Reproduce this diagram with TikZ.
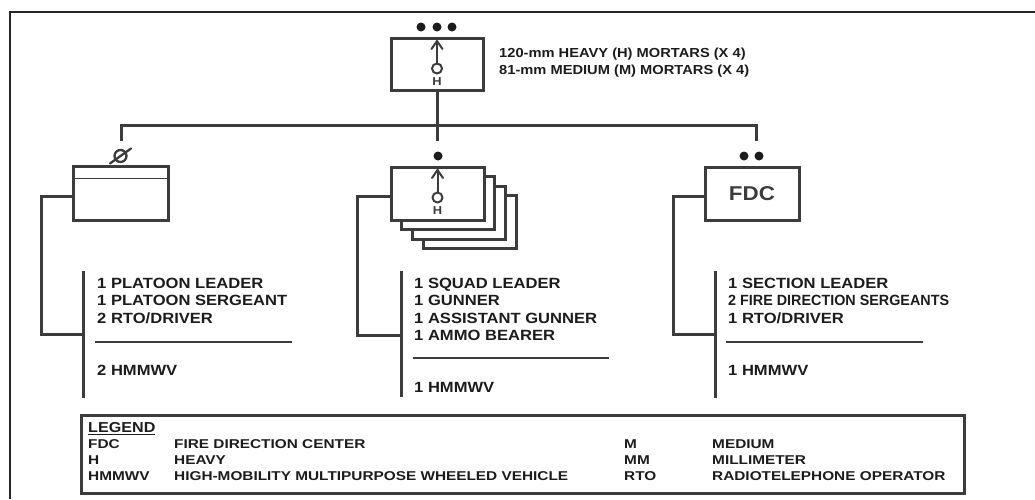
\documentclass[tikz,border=0pt]{standalone}
\usepackage{fontspec}
\setmainfont{Liberation Sans}[FakeStretch=1.12]
\newfontfamily\legfont{Liberation Sans}[FakeStretch=1.2]
\newfontfamily\narrowfont{Liberation Sans}[FakeStretch=0.97]
\usetikzlibrary{calc}
\definecolor{ln}{HTML}{3C3C3C}
\definecolor{tx}{HTML}{1C1C1C}
\tikzset{
  mortar/.pic={
    \draw[sym] (0,27) -- (0,4.5);
    \draw[sym] (-5.5,12.5) -- (0,4.5) -- (5.5,12.5);
    \draw[sym] (0,32) circle (5pt);
    \node[font=\bfseries\fontsize{11.5}{12}\selectfont,text=ln,inner sep=0pt] (h) at (0,45.5) {H};
  }
}
\begin{document}
\begin{tikzpicture}[x=1pt,y=-1pt,
  unit/.style={draw=ln,line width=3pt,fill=white,inner sep=0pt},
  conn/.style={draw=ln,line width=3pt},
  seprule/.style={draw=ln,line width=1.3pt},
  sym/.style={draw=ln,line width=2pt,line cap=round,line join=round},
  bdot/.style={circle,fill=tx,inner sep=0pt,minimum size=9pt},
  txt/.style={text=tx,font=\bfseries\fontsize{14.8}{17.4}\selectfont,align=left,anchor=north west,inner sep=0pt},
  ltxt/.style={text=tx,font=\legfont\bfseries\fontsize{12.8}{16.2}\selectfont,align=left,anchor=north west,inner sep=0pt}
]
\useasboundingbox (0,0) rectangle (1035,499);
% outer frame
\draw[line width=2pt,draw=black!85] (10,499) -- (10,12) -- (1035,12);

% company HQ
\node[bdot] (hd1) at (421,27) {};
\node[bdot] (hd2) at (437,27) {};
\node[bdot] (hd3) at (452,27) {};
\node[unit,minimum width=92pt,minimum height=52pt] (hq) at (437,64) {};
\pic (hqm) at (hq.north) {mortar};
\node[txt,font=\bfseries\fontsize{13.1}{17}\selectfont] (ht) at (499,47.5)
  {120-mm HEAVY (H) MORTARS (X 4)\\81-mm MEDIUM (M) MORTARS (X 4)};

% tree connectors
\coordinate (bar) at (437,125);
\coordinate (dL) at (121,141);
\coordinate (dM) at (437,141);
\coordinate (dR) at (756,141);
\draw[conn] (hq.south) -- (bar);
\draw[conn] (dL) |- (bar) -| (dR);
\draw[conn] (bar) -- (dM);

% platoon HQ
\draw[sym,line width=2.3pt] (120.5,156) circle (6pt);
\draw[sym,line width=2.3pt] (110,163.5) -- (131,148.5);
\node[unit,minimum width=95pt,minimum height=54pt] (plt) at (120.5,193) {};
\draw[sym,line width=1.5pt,line cap=butt] ($(plt.north west)+(0,14)$) -- ($(plt.north east)+(0,14)$);

% squads
\foreach \i in {3,2,1}{
  \node[unit,minimum width=93pt,minimum height=53pt] (sqd\i) at (437.5+10.7*\i,193.5+9.5*\i) {};
}
\node[bdot] (sd1) at (438,156) {};
\node[unit,minimum width=93pt,minimum height=53pt] (sqd) at (437.5,193.5) {};
\pic (sqm) at (sqd.north) {mortar};

% FDC
\node[bdot] (fd1) at (744,156) {};
\node[bdot] (fd2) at (759,156) {};
\node[unit,minimum width=94pt,minimum height=53pt,text=ln,font=\bfseries\fontsize{20}{22}\selectfont] (fdc) at (752,193.5) {FDC};

% lists: left
\coordinate (tL) at (83,271);
\coordinate (eL) at (83,398);
\coordinate (jL) at (41,334);
\draw[conn] (tL) -- (eL);
\draw[conn] ([yshift=-3pt]plt.west) -| (jL) -- (jL -| tL);
\node[txt] (Lt) at (97,278) {1 PLATOON LEADER\\1 PLATOON SERGEANT\\2 RTO/DRIVER};
\draw[seprule] (95,342) -- (292,342);
\node[txt] (Lv) at (97,365) {2 HMMWV};

% lists: middle
\coordinate (tM) at (401,271);
\coordinate (eM) at (401,397);
\coordinate (jM) at (357,335);
\draw[conn] (tM) -- (eM);
\draw[conn] ([yshift=-3pt]sqd.west) -| (jM) -- (jM -| tM);
\node[txt] (Mt) at (414,278) {1 SQUAD LEADER\\1 GUNNER\\1 ASSISTANT GUNNER\\1 AMMO BEARER};
\draw[seprule] (413,358) -- (609,358);
\node[txt] (Mv) at (414,382) {1 HMMWV};

% lists: right
\coordinate (tR) at (715,271);
\coordinate (eR) at (715,398);
\coordinate (jR) at (673,334);
\draw[conn] (tR) -- (eR);
\draw[conn] ([yshift=-3pt]fdc.west) -| (jR) -- (jR -| tR);
\node[txt] (Rt) at (728,278) {1 SECTION LEADER\\{\narrowfont\bfseries 2 FIRE DIRECTION SERGEANTS}\\1 RTO/DRIVER};
\draw[seprule] (726,342) -- (923,342);
\node[txt] (Rv) at (728,365) {1 HMMWV};

% legend
\node[unit,minimum width=883pt,minimum height=78pt,anchor=north west] (leg) at (80,414) {};
\node[txt,font=\bfseries\fontsize{14.4}{16}\selectfont] (lgh) at (88,422.5) {\underline{LEGEND}};
\node[ltxt] (lc1) at (88,439) {FDC\\H\\HMMWV};
\node[ltxt] (lc2) at (174,439) {FIRE DIRECTION CENTER\\HEAVY\\HIGH-MOBILITY MULTIPURPOSE WHEELED VEHICLE};
\node[ltxt] (lc3) at (624,439) {M\\MM\\RTO};
\node[ltxt] (lc4) at (712,439) {MEDIUM\\MILLIMETER\\RADIOTELEPHONE OPERATOR};
\end{tikzpicture}
\end{document}
